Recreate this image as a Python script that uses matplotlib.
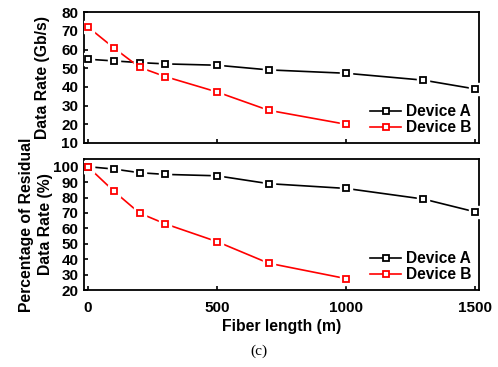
import matplotlib
matplotlib.use('Agg')
import matplotlib.pyplot as plt

# data
fiber_len_a = [0, 100, 200, 300, 500, 700, 1000, 1300, 1500]
fiber_len_b = [0, 100, 200, 300, 500, 700, 1000]
rate_a = [54.8, 53.9, 53.0, 52.3, 51.6, 49.1, 47.3, 43.6, 38.9]
rate_b = [72.1, 60.9, 50.5, 45.5, 37.3, 27.5, 20.0]
resid_a = [100, 98.5, 96.1, 95.0, 94.1, 89.0, 85.9, 79.0, 70.7]
resid_b = [100, 84.2, 69.9, 62.9, 51.4, 37.4, 27.4]
labels = ['Device A', 'Device B']
colors = ['black', 'red']

plt.rcParams['font.family'] = ['Liberation Sans', 'DejaVu Sans']
plt.rcParams['font.weight'] = 'bold'
plt.rcParams['axes.labelweight'] = 'bold'
fs = 11

fig = plt.figure(figsize=(4.98, 3.67), dpi=100)
ax1 = fig.add_axes([0.1687, 0.6104, 0.7931, 0.3566])
ax2 = fig.add_axes([0.1687, 0.2098, 0.7931, 0.3570])


def draw(ax, xs, ys, color):
    ax.plot(xs, ys, '-', color=color, linewidth=1.2, zorder=2)
    ax.plot(xs, ys, 's', color='white', markersize=8, zorder=3)
    ax.plot(xs, ys, 's', markerfacecolor='white', markeredgecolor=color,
            markeredgewidth=1.3, markersize=4.5, zorder=4)


for ax, ya, yb in [(ax1, rate_a, rate_b), (ax2, resid_a, resid_b)]:
    draw(ax, fiber_len_a, ya, colors[0])
    draw(ax, fiber_len_b, yb, colors[1])
    ax.set_xlim(-15, 1515)
    ax.set_xticks([0, 500, 1000, 1500])
    ax.tick_params(direction='in', length=3, width=1.2, labelsize=fs,
                   top=False, right=False)
    ax.tick_params(axis='y', pad=4)
    ax.tick_params(axis='x', pad=8)
    for sp in ax.spines.values():
        sp.set_linewidth(1.3)
    # legend proxies
    handles = []
    for c in colors:
        h, = ax.plot([], [], '-s', color=c, markerfacecolor='white',
                     markeredgecolor=c, markeredgewidth=1.3, markersize=4.5,
                     linewidth=1.2)
        handles.append(h)
    ax.legend(handles, labels, loc='lower right', frameon=False,
              handlelength=2.0, handletextpad=0.3,
              labelspacing=0.05, borderaxespad=0.1,
              prop={'weight': 'bold', 'size': 11.2})

ax1.set_ylim(10, 80)
ax1.set_yticks(range(10, 81, 10))
ax1.set_xticklabels([])
ax1.set_ylabel('Data Rate (Gb/s)', fontsize=11.3, labelpad=8)

ax2.set_ylim(20, 105)
ax2.set_yticks(range(20, 101, 10))
ax2.set_ylabel('Percentage of Residual\nData Rate (%)', fontsize=11.3,
               labelpad=0, linespacing=1.3)
ax2.set_xlabel('Fiber length (m)', fontsize=11.3, labelpad=3)

fig.text(0.52, 0.042, '(c)', family='Liberation Serif', weight='normal',
         fontsize=11, ha='center', va='center')

plt.savefig('out.png', dpi=100)
